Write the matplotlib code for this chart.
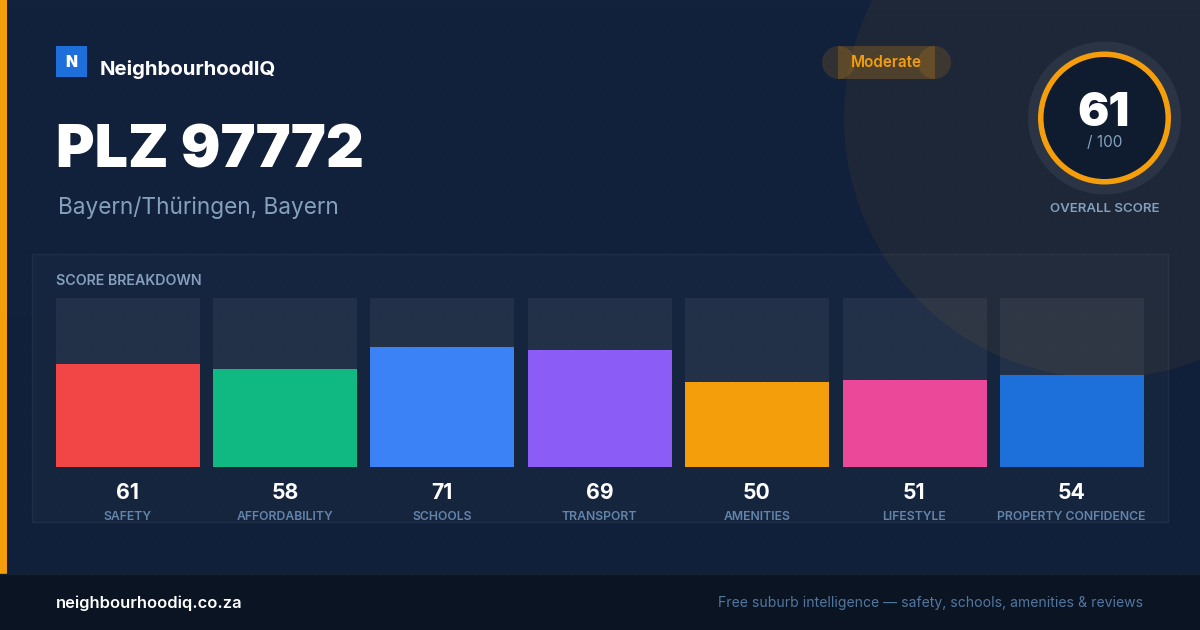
import matplotlib
matplotlib.use("Agg")
import matplotlib.pyplot as plt
from matplotlib.patches import Circle, Rectangle, Wedge
import numpy as np

categories = ["SAFETY", "AFFORDABILITY", "SCHOOLS", "TRANSPORT", "AMENITIES", "LIFESTYLE", "PROPERTY CONFIDENCE"]
scores = [61, 58, 71, 69, 50, 51, 54]
bar_colors = ["#f24646", "#10b981", "#3b82f6", "#8b5cf6", "#f59e0b", "#ec4899", "#1d6fd9"]
overall = 61
track_max = 100

plt.rcParams["font.family"] = ["Inter", "DejaVu Sans"]
PX = 0.72
fig = plt.figure(figsize=(12, 6.3), dpi=100, facecolor="#12213b")
bg = fig.add_axes([0, 0, 1, 1])
bg.set_xlim(0, 1200)
bg.set_ylim(630, 0)
bg.axis("off")

grad = np.linspace(0, 1, 64).reshape(-1, 1)
c0, c1 = np.array([0x12, 0x21, 0x3c]) / 255, np.array([0x11, 0x20, 0x3a]) / 255
bg.imshow(c0 + (c1 - c0) * grad[..., None], extent=(0, 1200, 630, 0), aspect="auto", zorder=0)
bg.set_xlim(0, 1200)
bg.set_ylim(630, 0)

gx, gy = np.meshgrid(np.arange(24, 1200, 32), np.arange(24, 574, 32))
bg.scatter(gx.ravel(), gy.ravel(), s=1.2, color="white", alpha=0.03, linewidths=0, zorder=1)

bg.add_patch(Circle((1104, 118), 260, fc="#f59e0b", alpha=0.058, lw=0, zorder=1))
bg.add_patch(Rectangle((32, 254), 1136, 268, fc=(1, 1, 1, 0.022), ec=(1, 1, 1, 0.055), lw=1, zorder=2))
bg.add_patch(Rectangle((0, 0), 7, 574, fc="#f59e0b", lw=0, zorder=3))
bg.add_patch(Rectangle((0, 574), 1200, 56, fc="#0a1423", ec="none", zorder=3))
bg.plot([0, 1200], [574, 574], color="#15202f", lw=1, zorder=4)

# logo
bg.add_patch(Rectangle((56, 46), 31, 31, fc="#1d6fd9", lw=0, zorder=3))
bg.text(71.5, 67, "N", color="white", fontsize=15.5 * PX, fontweight="black", ha="center", va="baseline", zorder=4)
bg.text(100, 75, "NeighbourhoodIQ", color="white", fontsize=20.35 * PX, fontweight="bold", ha="left", va="baseline", zorder=4)
bg.text(56, 168, "PLZ 97772", color="white", fontsize=59 * PX, fontweight="black", ha="left", va="baseline", zorder=4)
bg.text(58, 214, "Bayern/Thüringen, Bayern", color="#84a0bd", fontsize=22.65 * PX, ha="left", va="baseline", zorder=4)

# badge
for cx in (838.5, 934.5):
    bg.add_patch(Circle((cx, 62.5), 16.5, fc="#f59e0b", alpha=0.14, lw=0, zorder=3))
bg.add_patch(Rectangle((838, 46), 97, 33, fc="#f59e0b", alpha=0.22, lw=0, zorder=3))
bg.text(886.5, 67, "Moderate", color="#f59e0b", fontsize=15.2 * PX, fontweight="semibold", ha="center", va="baseline", zorder=4)

# gauge
bg.add_patch(Circle((1104.5, 118), 76.5, fc="#2a3445", lw=0, zorder=3))
bg.add_patch(Circle((1104.5, 118), 66, fc="#0f1b2f", lw=0, zorder=4))
bg.add_patch(Wedge((1104.5, 118), 66.5, 0, 360, width=5.5, fc="#f59e0b", lw=0, zorder=5))
bg.text(1104, 126, str(overall), color="white", fontsize=46.5 * PX, fontweight="black", ha="center", va="baseline", zorder=6)
bg.text(1104.5, 147, "/ 100", color="#84a0bd", fontsize=15.4 * PX, ha="center", va="baseline", zorder=6)
bg.text(1104.5, 212, "OVERALL SCORE", color="#84a0bd", fontsize=13.3 * PX, fontweight="semibold", ha="center", va="baseline", zorder=6)

bg.text(56, 285, "SCORE BREAKDOWN", color="#84a0bd", fontsize=14.2 * PX, fontweight="semibold", ha="left", va="baseline", zorder=4)

# bars
pitch = 157.37
left = 55.7 + 72 - pitch / 2
ax = fig.add_axes([left / 1200, 1 - 466.85 / 630, pitch * 7 / 1200, 169.33 / 630], facecolor="none")
ax.set_xlim(-0.5, 6.5)
ax.set_ylim(0, track_max)
ax.axis("off")
x = np.arange(len(scores))
w = 144 / pitch
ax.bar(x, [track_max] * len(scores), width=w, color=(1, 1, 1, 0.055), lw=0)
ax.bar(x, scores, width=w, color=bar_colors, lw=0)

for xi, s, c in zip(x, scores, categories):
    px = 128 + pitch * xi
    bg.text(px - 0.5, 499, str(s), color="white", fontsize=21.2 * PX, fontweight="bold", ha="center", va="baseline", zorder=4)
    bg.text(px - 0.5, 520, c, color="#6484aa", fontsize=12.2 * PX, fontweight="semibold", ha="center", va="baseline", zorder=4)

bg.text(56, 608, "neighbourhoodiq.co.za", color="white", fontsize=16.45 * PX, fontweight="semibold", ha="left", va="baseline", zorder=5)
bg.text(1143, 607, "Free suburb intelligence — safety, schools, amenities & reviews", color="#53769e", fontsize=14 * PX, ha="right", va="baseline", zorder=5)

fig.savefig("out.png", dpi=100, facecolor=fig.get_facecolor())
